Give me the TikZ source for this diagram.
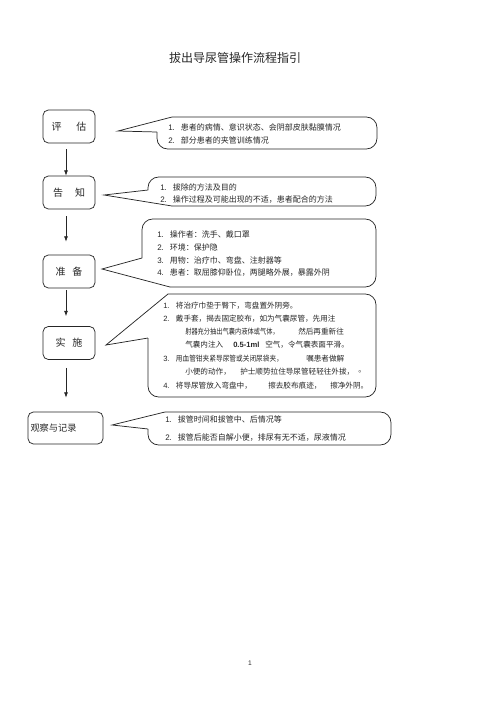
\documentclass[tikz,border=0pt]{standalone}
\usepackage{fontspec}
\setmainfont{Liberation Sans}
\newfontfamily\cjk{Noto Sans CJK SC}
\usetikzlibrary{arrows.meta}
\newcommand\lnum[1]{\makebox[9.5pt][l]{#1}}
\begin{document}
\begin{tikzpicture}[x=0.75pt,y=-0.75pt,
  ln/.style={draw=black!85, line width=0.55pt},
  box/.style={ln, rounded corners=4pt, minimum width=39pt, minimum height=24.75pt, inner sep=0pt, text=black!85, font=\cjk\fontsize{7.5}{9}\selectfont},
  arr/.style={ln, -{Latex[length=4pt,width=3pt]}},
  callout/.style={ln, rounded corners=8pt},
  t/.style={anchor=west, inner sep=0pt, text=black!85, font=\fontsize{6}{7}\selectfont},
  s/.style={anchor=west, inner sep=0pt, text=black!85, font=\fontsize{5.7}{7}\selectfont},
]
\useasboundingbox (0,0) rectangle (500,708);

\node[inner sep=0pt, text=black!85, font=\cjk\fontsize{9}{11}\selectfont] (title) at (235,58) {拔出导尿管操作流程指引};

% boxes
\node[box] (b1) at (69,126.5) {评\hspace{11pt}估};
\node[box] (b2) at (69,192.5) {告\hspace{9pt}知};
\node[box] (b3) at (69,271.5) {准\hspace{5pt}备};
\node[box] (b4) at (69,343) {实\hspace{5pt}施};
\node[box, minimum width=56.25pt, minimum height=24pt, font=\cjk\fontsize{6.9}{8}\selectfont, align=left] (b5) at (65.5,428) {观察与记录\hspace{18pt}};

% arrows
\draw[arr, shorten <=4.5pt] ([xshift=-2.25pt]b1.south) -- ([xshift=-2.25pt]b2.north);
\draw[arr, shorten <=5.25pt, shorten >=9.75pt] ([xshift=-2.25pt]b2.south) -- ([xshift=-2.25pt]b3.north);
\draw[arr, shorten <=1.5pt, shorten >=7.5pt] ([xshift=-2.25pt]b3.south) -- ([xshift=-2.25pt]b4.north);
\draw[arr, shorten <=6pt, shorten >=10.5pt] ([xshift=-2.25pt]b4.south) -- ([xshift=-2.25pt]b4.south |- b5.north);

% callout 1
\draw[callout] (172,117) -- (377,117) -- (377,149) -- (157,149) -- (157,132);
\draw[ln] (157,132) -- (118,131) -- (172,117);
\node[t] (c1a) at (168,127) {\lnum{1.}\cjk 患者的病情、意识状态、会阴部皮肤黏膜情况};
\node[t] (c1b) at (168,140) {\lnum{2.}\cjk 部分患者的夹管训练情况};

% callout 2
\draw[callout] (148,190) -- (148,177) -- (376,177) -- (376,206) -- (172,206);
\draw[ln] (172,206) -- (104,195) -- (148,190);
\node[t] (c2a) at (160,187) {\lnum{1.}\cjk 拔除的方法及目的};
\node[t] (c2b) at (160,200) {\lnum{2.}\cjk 操作过程及可能出现的不适，患者配合的方法};

% callout 3
\draw[callout] (142,258) -- (142,219) -- (376,219) -- (376,287) -- (170,287);
\draw[ln] (170,287) -- (102,269) -- (142,258);
\node[t] (c3a) at (157,234) {\lnum{1.}\cjk 操作者：洗手、戴口罩};
\node[t] (c3b) at (157,247) {\lnum{2.}\cjk 环境：保护隐};
\node[t] (c3c) at (157,260) {\lnum{3.}\cjk 用物：治疗巾、弯盘、注射器等};
\node[t] (c3d) at (157,273) {\lnum{4.}\cjk 患者：取屈膝仰卧位，两腿略外展，暴露外阴};

% callout 4
\draw[callout] (168,294) -- (376,294) -- (376,397) -- (148,397) -- (148,338);
\draw[ln] (148,338) -- (106,345) -- (168,294);
\node[s] (c4a) at (163,306) {\lnum{1.}\cjk 将治疗巾垫于臀下，弯盘置外阴旁。};
\node[s] (c4b) at (163,319) {\lnum{2.}\cjk 戴手套，揭去固定胶布，如为气囊尿管，先用注};
\node[s] (c4c) at (185,332) {\cjk\scalebox{0.82}[1]{射器充分抽出气囊内液体或气体，}};
\node[s] (c4d) at (298,332) {\cjk 然后再重新往};
\node[s] (c4e) at (185,345) {\cjk 气囊内注入};
\node[s, font=\bfseries\fontsize{5.7}{7}\selectfont] (c4f) at (233,345) {0.5-1ml};
\node[s] (c4g) at (265,345) {\cjk 空气，令气囊表面平滑。};
\node[s] (c4h) at (163,359) {\lnum{3.}\cjk\scalebox{0.88}[1]{用血管钳夹紧导尿管或关闭尿袋夹，}};
\node[s] (c4i) at (306,359) {\cjk 嘱患者做解};
\node[s] (c4j) at (185,372) {\cjk 小便的动作，};
\node[s] (c4k) at (240,372) {\cjk 护士顺势拉住导尿管轻轻往外拔，};
\node[s] (c4l) at (358,372) {\cjk 。};
\node[s] (c4m) at (163,386) {\lnum{4.}\cjk 将导尿管放入弯盘中，};
\node[s] (c4n) at (268,386) {\cjk 擦去胶布痕迹，};
\node[s] (c4o) at (330,386) {\cjk 擦净外阴。};

% callout 5
\draw[callout] (165,412) -- (391,412) -- (391,445) -- (148,445) -- (148,429);
\draw[ln] (148,429) -- (112,425) -- (165,412);
\node[t] (c5a) at (165,419) {\lnum{1.}\cjk 拔管时间和拔管中、后情况等};
\node[t] (c5b) at (165,438) {\lnum{2.}\cjk 拔管后能否自解小便，排尿有无不适，尿液情况};

\node[inner sep=0pt, text=black!85, font=\fontsize{5}{6}\selectfont] (pg) at (250,663) {1};
\end{tikzpicture}
\end{document}
